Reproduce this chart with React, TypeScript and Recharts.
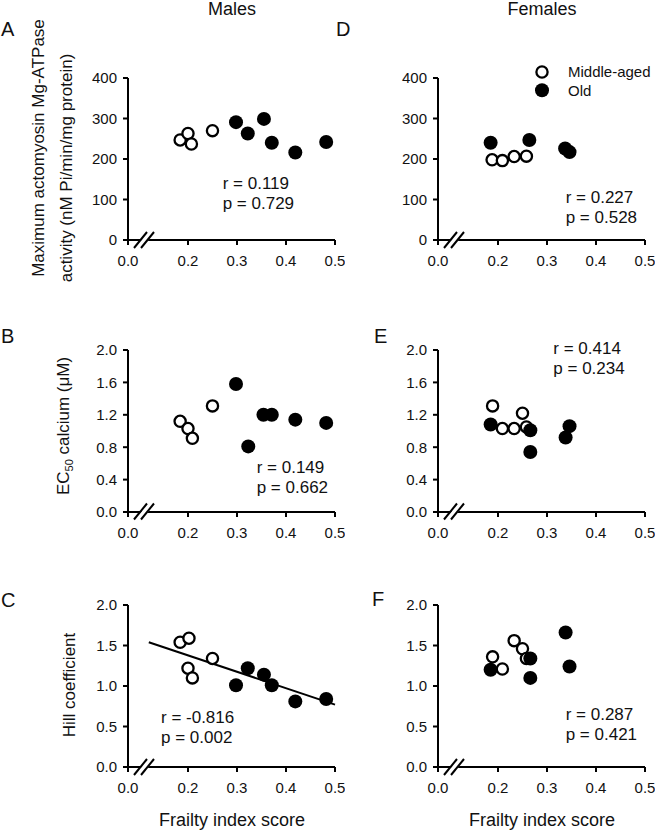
import React from 'react';
import { ScatterChart, Scatter, XAxis, YAxis, ReferenceLine, Legend } from 'recharts';

const FONT = '"Liberation Sans", Arial, Helvetica, sans-serif';

// ---------- axis definitions ----------
const X_MIN = 0.0776; // start of the broken x axis, labelled "0.0"
const X_MAX = 0.5;
const xTicks = [X_MIN, 0.2, 0.3, 0.4, 0.5];
const atpaseTicks = [0, 100, 200, 300, 400];
const ec50Ticks = [0, 0.4, 0.8, 1.2, 1.6, 2.0];
const hillTicks = [0, 0.5, 1.0, 1.5, 2.0];
const groupNames = ['Middle-aged', 'Old'];
const columnTitles = ['Males', 'Females'];
const panelLetters = ['A', 'B', 'C', 'D', 'E', 'F'];

// ---------- data (frailty index score vs measure) ----------
// A: males, ATPase
const aMiddleX = [0.184, 0.2, 0.207, 0.25];
const aMiddleY = [247, 263, 237, 270];
const aOldX = [0.298, 0.322, 0.355, 0.371, 0.419, 0.482];
const aOldY = [291, 263, 299, 240, 216, 242];
// B: males, EC50
const bMiddleX = [0.184, 0.2, 0.209, 0.25];
const bMiddleY = [1.12, 1.03, 0.91, 1.31];
const bOldX = [0.298, 0.323, 0.354, 0.371, 0.419, 0.482];
const bOldY = [1.58, 0.81, 1.2, 1.2, 1.14, 1.1];
// C: males, Hill coefficient
const cMiddleX = [0.184, 0.202, 0.2, 0.209, 0.25];
const cMiddleY = [1.54, 1.59, 1.22, 1.1, 1.34];
const cOldX = [0.298, 0.322, 0.355, 0.371, 0.419, 0.482];
const cOldY = [1.01, 1.22, 1.14, 1.01, 0.81, 0.84];
const cFitX = [0.12, 0.5];
const cFitY = [1.54, 0.77];
// D: females, ATPase
const dMiddleX = [0.188, 0.209, 0.233, 0.258];
const dMiddleY = [198, 196, 206, 207];
const dOldX = [0.185, 0.264, 0.337, 0.346];
const dOldY = [240, 247, 226, 217];
// E: females, EC50
const eMiddleX = [0.189, 0.209, 0.233, 0.25, 0.258];
const eMiddleY = [1.31, 1.03, 1.03, 1.22, 1.05];
const eOldX = [0.185, 0.266, 0.266, 0.338, 0.346];
const eOldY = [1.08, 1.01, 0.74, 0.92, 1.06];
// F: females, Hill coefficient
const fMiddleX = [0.189, 0.209, 0.233, 0.25, 0.258];
const fMiddleY = [1.36, 1.21, 1.56, 1.46, 1.34];
const fOldX = [0.185, 0.266, 0.266, 0.338, 0.346];
const fOldY = [1.2, 1.34, 1.1, 1.66, 1.24];

const stats = [
  ['r = 0.119', 'p = 0.729'],
  ['r = 0.149', 'p = 0.662'],
  ['r = -0.816', 'p = 0.002'],
  ['r = 0.227', 'p = 0.528'],
  ['r = 0.414', 'p = 0.234'],
  ['r = 0.287', 'p = 0.421'],
];

const zip = (xs: number[], ys: number[]) => xs.map((x, i) => ({ x, y: ys[i] }));

// ---------- layout ----------
const PLOT_LEFT = [128, 438];
const PLOT_RIGHT = [335, 645];
const PLOT_TOP = [78, 349.5, 605];
const PLOT_H = 162;
const CHART_LEFT = [0, 330];
const MARGIN_TOP = 30;
const XAXIS_H = 40;

const OpenDot = (p: any) =>
  p.cx == null ? null : <circle cx={p.cx} cy={p.cy} r={5.6} fill="#fff" stroke="#000" strokeWidth={2.3} />;
const FilledDot = (p: any) =>
  p.cx == null ? null : <circle cx={p.cx} cy={p.cy} r={7} fill="#000" />;

const fmtX = (v: number) => (v === X_MIN ? '0.0' : v.toFixed(1));

const LegendContent = () => (
  <svg width={118} height={40} style={{ overflow: 'visible', display: 'block' }}>
    <circle cx={12} cy={10} r={5.6} fill="#fff" stroke="#000" strokeWidth={2.3} />
    <circle cx={12} cy={28.3} r={7} fill="#000" />
    <text x={38} y={15} fontSize={15} fontFamily={FONT} fill="#111">{groupNames[0]}</text>
    <text x={38} y={34.3} fontSize={15} fontFamily={FONT} fill="#111">{groupNames[1]}</text>
  </svg>
);

type PanelProps = {
  col: number;
  row: number;
  middle: { x: number; y: number }[];
  old: { x: number; y: number }[];
  yDomain: [number, number];
  yTicks: number[];
  yFmt: (v: number) => string;
  fit?: { x: number; y: number }[];
  legend?: boolean;
};

function Panel({ col, row, middle, old, yDomain, yTicks, yFmt, fit, legend }: PanelProps) {
  const left = CHART_LEFT[col];
  const plotLeft = PLOT_LEFT[col];
  const plotRight = PLOT_RIGHT[col];
  const width = plotRight - left + 10;
  const top = PLOT_TOP[row] - MARGIN_TOP;
  const height = MARGIN_TOP + PLOT_H + XAXIS_H;
  const axisStyle = { stroke: '#000', strokeWidth: 2 };
  const tickStyle = { fill: '#111', fontSize: 15, fontFamily: FONT };
  return (
    <div style={{ position: 'absolute', left, top }}>
      <ScatterChart width={width} height={height} margin={{ top: MARGIN_TOP, right: 10, bottom: 0, left: 0 }}>
        <XAxis
          type="number"
          dataKey="x"
          domain={[X_MIN, X_MAX]}
          ticks={xTicks}
          interval={0}
          allowDataOverflow
          tickFormatter={fmtX}
          axisLine={axisStyle}
          tickLine={axisStyle}
          tickSize={5}
          tickMargin={10}
          tick={tickStyle}
          height={XAXIS_H}
        />
        <YAxis
          type="number"
          dataKey="y"
          domain={yDomain}
          ticks={yTicks}
          interval={0}
          allowDataOverflow
          tickFormatter={yFmt}
          axisLine={axisStyle}
          tickLine={axisStyle}
          tickSize={5}
          tickMargin={6}
          tick={tickStyle}
          width={plotLeft - left}
        />
        {legend && (
          <Legend
            layout="vertical"
            align="center"
            verticalAlign="middle"
            content={LegendContent}
            wrapperStyle={{ left: 200, top: 14, width: 118, height: 40 }}
          />
        )}
        {fit && <ReferenceLine segment={fit as any} stroke="#000" strokeWidth={2} />}
        <Scatter name={groupNames[0]} data={middle} shape={OpenDot} isAnimationActive={false} />
        <Scatter name={groupNames[1]} data={old} shape={FilledDot} isAnimationActive={false} />
      </ScatterChart>
    </div>
  );
}

const intFmt = (v: number) => String(v);
const oneDec = (v: number) => v.toFixed(1);

function BreakMark({ ox, oy }: { ox: number; oy: number }) {
  return (
    <g>
      <polygon
        points={`${ox + 7},${oy + 8} ${ox + 20},${oy - 8} ${ox + 27},${oy - 8} ${ox + 14},${oy + 8}`}
        fill="#fff"
      />
      <line x1={ox + 6} y1={oy + 8} x2={ox + 19} y2={oy - 8} stroke="#000" strokeWidth={2} />
      <line x1={ox + 13} y1={oy + 8} x2={ox + 26} y2={oy - 8} stroke="#000" strokeWidth={2} />
    </g>
  );
}

const statPos = [
  [222.7, 188.5],
  [256.7, 472.5],
  [161, 722.5],
  [565.7, 202.5],
  [553.3, 354],
  [565.7, 720],
];
const letterPos = [
  [1, 36],
  [1, 343],
  [1, 607],
  [336, 36],
  [374, 343],
  [372, 606],
];

export default function App() {
  const txt = { fontFamily: FONT, fill: '#111' } as const;
  return (
    <div style={{ position: 'absolute', left: 0, top: 0, width: 655, height: 833, background: '#fff', overflow: 'hidden' }}>
      <Panel col={0} row={0} middle={zip(aMiddleX, aMiddleY)} old={zip(aOldX, aOldY)} yDomain={[0, 400]} yTicks={atpaseTicks} yFmt={intFmt} />
      <Panel col={0} row={1} middle={zip(bMiddleX, bMiddleY)} old={zip(bOldX, bOldY)} yDomain={[0, 2]} yTicks={ec50Ticks} yFmt={oneDec} />
      <Panel col={0} row={2} middle={zip(cMiddleX, cMiddleY)} old={zip(cOldX, cOldY)} yDomain={[0, 2]} yTicks={hillTicks} yFmt={oneDec} fit={zip(cFitX, cFitY)} />
      <Panel col={1} row={0} middle={zip(dMiddleX, dMiddleY)} old={zip(dOldX, dOldY)} yDomain={[0, 400]} yTicks={atpaseTicks} yFmt={intFmt} legend />
      <Panel col={1} row={1} middle={zip(eMiddleX, eMiddleY)} old={zip(eOldX, eOldY)} yDomain={[0, 2]} yTicks={ec50Ticks} yFmt={oneDec} />
      <Panel col={1} row={2} middle={zip(fMiddleX, fMiddleY)} old={zip(fOldX, fOldY)} yDomain={[0, 2]} yTicks={hillTicks} yFmt={oneDec} />

      <svg width={655} height={833} style={{ position: 'absolute', left: 0, top: 0, pointerEvents: 'none' }}>
        <text x={232} y={15} textAnchor="middle" fontSize={18} {...txt}>{columnTitles[0]}</text>
        <text x={542} y={15} textAnchor="middle" fontSize={18} {...txt}>{columnTitles[1]}</text>

        {panelLetters.map((l, i) => (
          <text key={l} x={letterPos[i][0]} y={letterPos[i][1]} fontSize={20} {...txt}>{l}</text>
        ))}

        {stats.map((s, i) => (
          <g key={i}>
            <text x={statPos[i][0]} y={statPos[i][1]} fontSize={17} {...txt}>{s[0]}</text>
            <text x={statPos[i][0]} y={statPos[i][1] + 20} fontSize={17} {...txt}>{s[1]}</text>
          </g>
        ))}

        <text transform="translate(44,148) rotate(-90)" textAnchor="middle" fontSize={17} {...txt}>Maximum actomyosin Mg-ATPase</text>
        <text transform="translate(72,168) rotate(-90)" textAnchor="middle" fontSize={17} {...txt}>activity (nM Pi/min/mg protein)</text>
        <text transform="translate(69,426) rotate(-90)" textAnchor="middle" fontSize={17} {...txt}>
          EC<tspan fontSize={11} dy={4}>50</tspan><tspan dy={-4}> calcium (μM)</tspan>
        </text>
        <text transform="translate(75,685) rotate(-90)" textAnchor="middle" fontSize={17} {...txt}>Hill coefficient</text>

        <text x={232} y={826} textAnchor="middle" fontSize={18} {...txt}>Frailty index score</text>
        <text x={542} y={826} textAnchor="middle" fontSize={18} {...txt}>Frailty index score</text>

        {PLOT_TOP.map((t) =>
          PLOT_LEFT.map((l) => <BreakMark key={`${t}-${l}`} ox={l} oy={t + PLOT_H} />)
        )}
      </svg>
    </div>
  );
}
